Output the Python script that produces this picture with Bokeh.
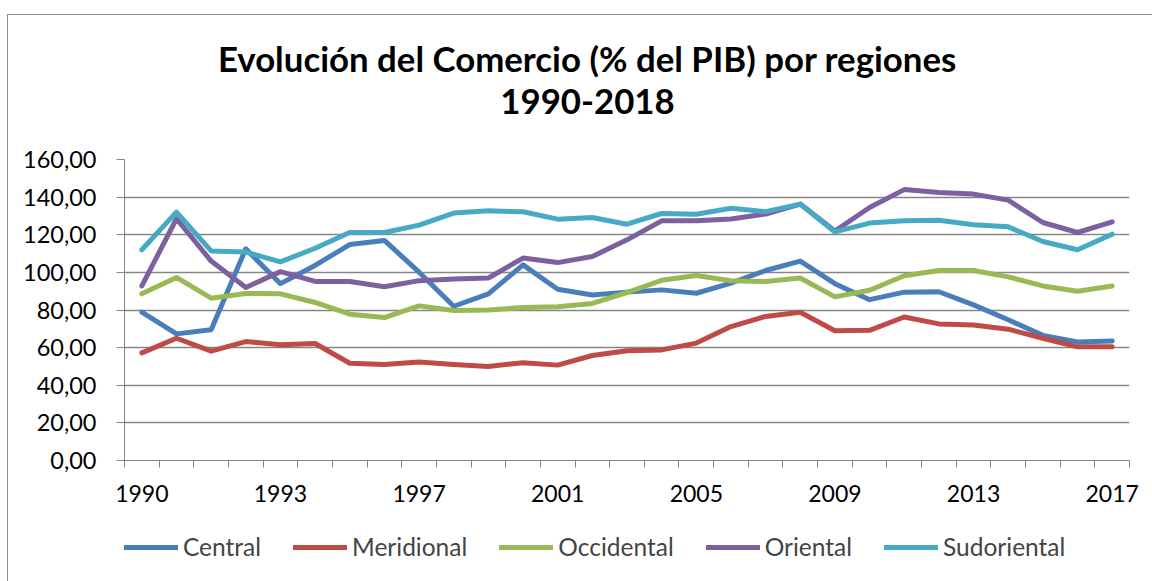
from bokeh.plotting import figure
from bokeh.layouts import column
from bokeh.models import FixedTicker, Legend, LegendItem, Label, Range1d
from bokeh.embed import file_html
from bokeh.resources import INLINE

# ---- data ----
years = list(range(1990, 2019))  # 29 categories
x_tick_labels = ["1990", "1993", "1997", "2001", "2005", "2009", "2013", "2017"]
label_every = 4
y_ticks = [0, 20, 40, 60, 80, 100, 120, 140, 160]
y_tick_labels = ["0,00", "20,00", "40,00", "60,00", "80,00", "100,00", "120,00", "140,00", "160,00"]

central = [78.9, 67.3, 69.5, 112.5, 94.0, 103.7, 114.8, 117.0, 100.1, 82.0,
           88.6, 104.0, 91.0, 88.0, 89.5, 90.7, 88.9, 94.3, 101.0, 106.0,
           94.0, 85.5, 89.5, 89.7, 82.7, 74.8, 66.5, 63.0, 63.5]
meridional = [57.2, 65.0, 58.1, 63.2, 61.5, 62.2, 51.7, 51.0, 52.3, 51.0,
              50.0, 52.0, 50.7, 55.8, 58.3, 58.8, 62.4, 71.2, 76.6, 78.8,
              69.0, 69.2, 76.3, 72.6, 72.0, 69.8, 65.0, 60.4, 60.4]
occidental = [88.6, 97.3, 86.3, 88.8, 88.6, 84.0, 77.8, 76.0, 82.2, 79.7,
              80.0, 81.3, 81.7, 83.5, 89.3, 95.8, 98.3, 95.5, 95.2, 97.0,
              87.0, 90.5, 98.2, 101.0, 101.0, 97.6, 92.8, 90.0, 92.8]
oriental = [92.8, 128.5, 106.0, 92.0, 100.4, 95.2, 95.2, 92.4, 95.6, 96.5,
            97.0, 107.6, 105.2, 108.4, 117.3, 127.4, 127.4, 128.4, 131.0, 136.3,
            122.0, 134.5, 144.0, 142.4, 141.6, 138.4, 126.5, 121.2, 126.9]
sudoriental = [112.0, 132.0, 111.4, 110.8, 105.6, 112.8, 121.2, 121.2, 125.1, 131.5,
               132.7, 132.2, 128.3, 129.2, 125.6, 131.3, 130.9, 134.1, 132.3, 136.3,
               121.5, 126.2, 127.4, 127.7, 125.3, 124.2, 116.4, 112.0, 120.3]

series_names = ["Central", "Meridional", "Occidental", "Oriental", "Sudoriental"]
series_values = [central, meridional, occidental, oriental, sudoriental]
series_colors = ["#4A7EBB", "#BE4B48", "#98B954", "#7D60A0", "#46AAC5"]

title_lines = ["Evolución del Comercio (% del PIB) por regiones", "1990-2018"]

# ---- styling constants ----
n = len(years)
GRAY = "#868686"
FONT = "Lato"
W = 1144


def blank(height, y_range=(0, 1)):
    f = figure(width=W, height=height, x_range=Range1d(-0.5, n - 0.5), y_range=Range1d(*y_range),
               x_axis_type=None, y_axis_type=None, output_backend="svg",
               toolbar_location=None, min_border=0)
    f.outline_line_color = None
    f.title.visible = False
    return f


# ---- title strip (its frame is aligned with the chart's frame) ----
p0 = blank(120)
for txt, yy in zip(title_lines, [77, 34]):
    p0.add_layout(Label(x=463, y=yy, x_units="screen", y_units="screen", text=txt,
                        text_align="center", text_baseline="middle",
                        text_font=FONT, text_font_style="bold", text_font_size="34.8px",
                        text_color="black"))

# ---- main chart ----
p = figure(width=W, height=380, x_range=Range1d(-0.5, n - 0.5), y_range=Range1d(0, 160),
           output_backend="svg", toolbar_location=None,
           min_border_left=116, min_border_right=23, min_border_top=24, min_border_bottom=55)
p.title.visible = False
p.outline_line_color = None

p.yaxis.ticker = FixedTicker(ticks=y_ticks)
p.yaxis.major_label_overrides = dict(zip(y_ticks, y_tick_labels))
p.yaxis.axis_line_color = GRAY
p.yaxis.major_tick_line_color = GRAY
p.yaxis.major_tick_out = 8
p.yaxis.major_tick_in = 0
p.yaxis.minor_tick_line_color = None
p.yaxis.major_label_standoff = 20
p.yaxis.major_label_text_font = FONT
p.yaxis.major_label_text_font_size = "23.5px"
p.yaxis.major_label_text_color = "black"

x_major = list(range(0, n, label_every))
x_minor = [i - 0.5 for i in range(n + 1)]
p.xaxis.ticker = FixedTicker(ticks=x_major, minor_ticks=x_minor)
p.xaxis.major_label_overrides = dict(zip(x_major, x_tick_labels))
p.xaxis.axis_line_color = GRAY
p.xaxis.major_tick_line_color = None
p.xaxis.major_tick_out = 7
p.xaxis.major_tick_in = 0
p.xaxis.minor_tick_line_color = GRAY
p.xaxis.minor_tick_out = 7
p.xaxis.minor_tick_in = 0
p.xaxis.major_label_standoff = 17
p.xaxis.major_label_text_font = FONT
p.xaxis.major_label_text_font_size = "23px"
p.xaxis.major_label_text_color = "black"

p.xgrid.visible = False
p.ygrid.ticker = FixedTicker(ticks=y_ticks)
p.ygrid.grid_line_color = GRAY
p.ygrid.grid_line_width = 1.5

x = list(range(n))
for vals, col in zip(series_values, series_colors):
    p.line(x, vals, line_color=col, line_width=5, line_join="round", line_cap="round")

# ---- legend strip: same series, drawn outside its (empty) y range, only the legend shows ----
p2 = blank(66, y_range=(-2, -1))
items = []
for name, vals, col in zip(series_names, series_values, series_colors):
    r = p2.line(x, vals, line_color=col, line_width=5, line_cap="round")
    items.append(LegendItem(label=name, renderers=[r]))
legend = Legend(items=items, orientation="horizontal", location=(0, 20),
                padding=0, margin=0, spacing=32, glyph_width=54, glyph_height=24,
                label_standoff=5, label_height=24,
                label_text_font=FONT, label_text_font_size="24.5px",
                border_line_color=None, background_fill_alpha=0)
p2.add_layout(legend, "center")

layout = column(p0, p, p2, spacing=0)
layout.styles = {"margin-left": "7px", "margin-top": "14px",
                 "border-top": "1px solid #8c8c8c", "border-left": "1px solid #8c8c8c"}

open("out.html", "w").write(file_html(layout, INLINE))
